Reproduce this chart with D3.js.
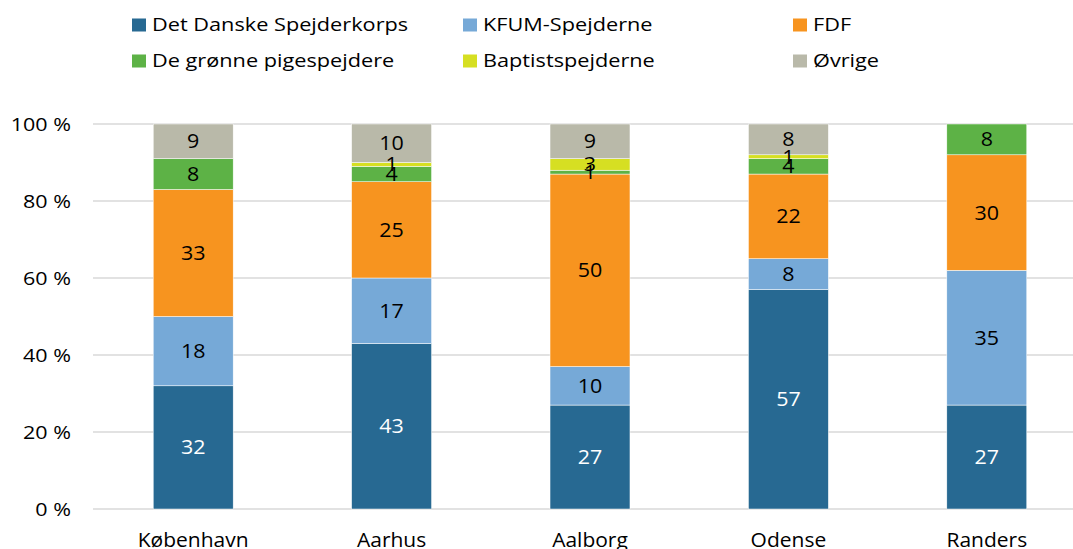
<!DOCTYPE html>
<html>
<head>
<meta charset="utf-8">
<script src="https://cdn.jsdelivr.net/npm/d3@7"></script>
<style>
  body { margin: 0; background: #fff; }
  text { font-family: "Open Sans", "Liberation Sans", sans-serif; }
</style>
</head>
<body>
<svg id="chart" width="1073" height="549"></svg>
<script>
// cities along the x axis
const cities = ["København", "Aarhus", "Aalborg", "Odense", "Randers"];
// one array per series (percent of members, stacked bottom to top)
const series = ["Det Danske Spejderkorps", "KFUM-Spejderne", "FDF", "De grønne pigespejdere", "Baptistspejderne", "Øvrige"];
const detDanske = [32, 43, 27, 57, 27];
const kfum = [18, 17, 10, 8, 35];
const fdf = [33, 25, 50, 22, 30];
const groenne = [8, 4, 1, 4, 8];
const baptist = [0, 1, 3, 1, 0];
const oevrige = [9, 10, 9, 8, 0];
const yTicks = [0, 20, 40, 60, 80, 100];

const colors = ["#276992", "#76a9d7", "#f7941f", "#5db246", "#d6df22", "#b9b9a9"];
const labelColors = ["#fff", "#000", "#000", "#000", "#000", "#000"];

const W = 1073, H = 549;
const svg = d3.select("#chart");

// text in the original is a bit wider than Open Sans, so stretch it horizontally
const place = (px, py, sx) => `translate(${px},${py}) scale(${sx},1)`;

const rows = cities.map((c, i) => ({
  city: c,
  "Det Danske Spejderkorps": detDanske[i],
  "KFUM-Spejderne": kfum[i],
  "FDF": fdf[i],
  "De grønne pigespejdere": groenne[i],
  "Baptistspejderne": baptist[i],
  "Øvrige": oevrige[i]
}));

const stacked = d3.stack().keys(series)(rows);

const x = d3.scaleBand().domain(cities).range([94, 1086]).paddingInner(0.597).paddingOuter(0.2985);
const y = d3.scaleLinear().domain([0, 100]).range([509, 124]);

// gridlines
svg.append("g")
  .selectAll("line")
  .data(yTicks)
  .join("line")
  .attr("x1", 93).attr("x2", W)
  .attr("y1", d => y(d)).attr("y2", d => y(d))
  .attr("stroke", "#d9d9d9")
  .attr("stroke-width", 1.5);

// y tick labels
svg.append("g")
  .selectAll("text")
  .data(yTicks)
  .join("text")
  .attr("transform", d => place(71, y(d), 1.15))
  .attr("dy", "0.36em")
  .attr("text-anchor", "end")
  .attr("font-size", 18.7)
  .attr("fill", "#000")
  .text(d => d + " %");

// bars
const layers = svg.append("g")
  .selectAll("g")
  .data(stacked)
  .join("g")
  .attr("fill", (d, i) => colors[i]);

layers.selectAll("rect")
  .data(d => d)
  .join("rect")
  .attr("x", d => x(d.data.city))
  .attr("width", x.bandwidth())
  .attr("y", d => y(d[1]))
  .attr("height", d => y(d[0]) - y(d[1]))
  .attr("stroke", "#fff")
  .attr("stroke-width", 0.5);

// data labels
stacked.forEach((layer, i) => {
  svg.append("g")
    .selectAll("text")
    .data(layer.filter(d => d[1] - d[0] > 0))
    .join("text")
    .attr("transform", d => place(x(d.data.city) + x.bandwidth() / 2, y((d[0] + d[1]) / 2), 1.1))
    .attr("dy", "0.36em")
    .attr("text-anchor", "middle")
    .attr("font-size", 19.5)
    .attr("fill", labelColors[i])
    .text(d => Math.round(d[1] - d[0]));
});

// x labels
svg.append("g")
  .selectAll("text")
  .data(cities)
  .join("text")
  .attr("transform", d => place(x(d) + x.bandwidth() / 2, 546.5, 1.05))
  .attr("text-anchor", "middle")
  .attr("font-size", 20)
  .attr("fill", "#000")
  .text(d => d);

// legend, 3 columns x 2 rows
const legendCols = [132, 463, 793];
const legendRows = [25, 61];
const legend = svg.append("g")
  .selectAll("g")
  .data(series)
  .join("g")
  .attr("transform", (d, i) => `translate(${legendCols[i % 3]},${legendRows[Math.floor(i / 3)]})`);

legend.append("rect")
  .attr("x", 0).attr("y", -6.5)
  .attr("width", 14).attr("height", 13)
  .attr("fill", (d, i) => colors[i]);

legend.append("text")
  .attr("transform", place(20, 0, 1.22))
  .attr("dy", "0.36em")
  .attr("font-size", 17.8)
  .attr("fill", "#000")
  .text(d => d);
</script>
</body>
</html>
